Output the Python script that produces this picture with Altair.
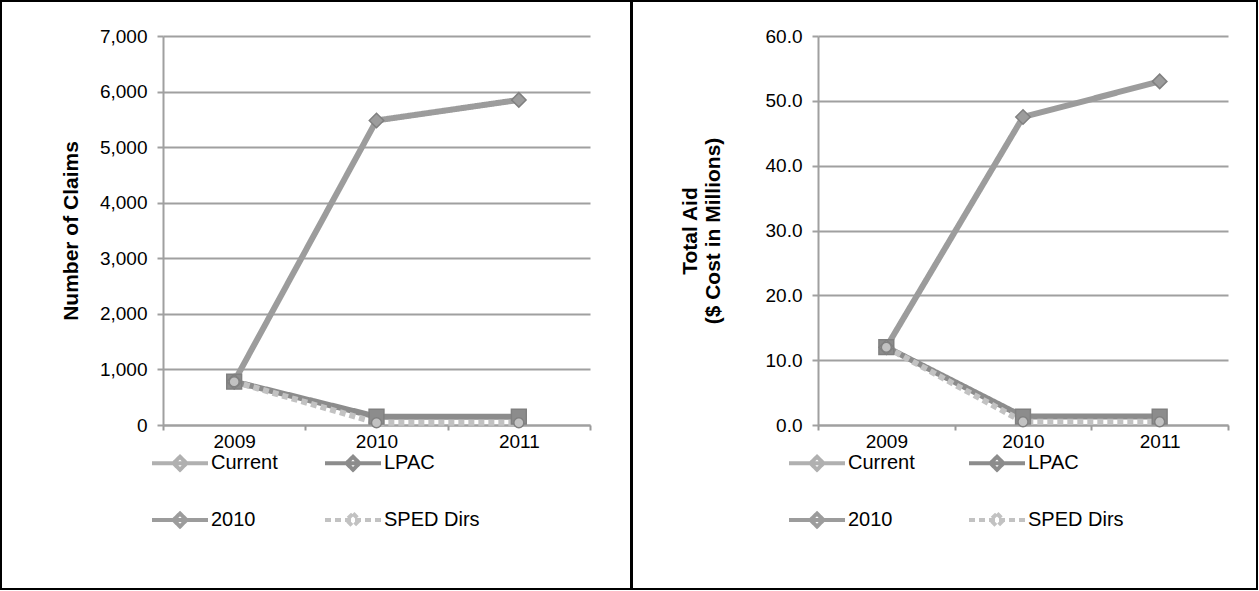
import altair as alt
import pandas as pd

years = ["2009", "2010", "2011"]
series = ["Current", "LPAC", "2010", "SPED Dirs"]

claims_current = [780, None, None]
claims_lpac = [780, 150, 150]
claims_2010 = [780, 5480, 5850]
claims_sped = [780, 40, 40]

aid_current = [12.0, None, None]
aid_lpac = [12.0, 1.3, 1.3]
aid_2010 = [12.0, 47.5, 53.0]
aid_sped = [12.0, 0.5, 0.5]

claims_ticks = [0, 1000, 2000, 3000, 4000, 5000, 6000, 7000]
aid_ticks = [0, 10, 20, 30, 40, 50, 60]

colors = ["#b0b0b0", "#8c8c8c", "#9c9c9c", "#c2c2c2"]
shapes = ["diamond", "square", "diamond", "circle"]
dashes = [[1, 0], [1, 0], [1, 0], [6, 4]]
sizes = [190, 220, 210, 100]

FONT = "Liberation Sans"
LEG_PATH = "M-5.6,0H5.6M0,-1.3L1.3,0L0,1.3L-1.3,0Z"


def long_df(cols):
    rows = []
    for s, vals in zip(series, cols):
        for y, v in zip(years, vals):
            if v is not None:
                rows.append({"year": y, "series": s, "value": v})
    return pd.DataFrame(rows)


def panel(df, width, ytitle, ymax, ticks, fmt, title_pad, frame_x, legend_x, col_pad):
    xenc = alt.X(
        "year:N", sort=years, bandPosition=0.5,
        scale=alt.Scale(type="band", domain=years, paddingInner=0, paddingOuter=0),
        axis=alt.Axis(title=None, tickBand="extent", labelFont=FONT, labelFontSize=19,
                      labelColor="#000", labelPadding=2, tickSize=5, tickColor="#999",
                      tickWidth=2, domainColor="#a0a0a0", domainWidth=2, grid=False,
                      labelAngle=0),
    )
    yenc = alt.Y(
        "value:Q",
        scale=alt.Scale(domain=[0, ymax], nice=False, zero=True),
        axis=alt.Axis(title=ytitle, values=ticks, format=fmt, labelFont=FONT,
                      labelFontSize=19, labelColor="#000", labelPadding=10,
                      tickSize=6, tickColor="#a0a0a0", tickWidth=2,
                      domainColor="#a0a0a0", domainWidth=2, gridColor="#a0a0a0",
                      gridWidth=2, titleFont=FONT, titleFontSize=21,
                      titleFontWeight="bold", titleColor="#000",
                      titlePadding=title_pad),
    )
    legend = alt.Legend(
        title=None, orient="none", legendX=legend_x, legendY=417, columns=2,
        direction="horizontal",
        symbolType=LEG_PATH, symbolSize=100, symbolStrokeWidth=4,
        labelFont=FONT, labelFontSize=20, labelColor="#000", labelOffset=21,
        rowPadding=27, columnPadding=col_pad,
    )
    cscale = alt.Scale(domain=series, range=colors)
    base = alt.Chart(df)
    lines = base.mark_line(strokeWidth=6).encode(
        x=xenc, y=yenc,
        color=alt.Color("series:N", scale=cscale, legend=legend),
        strokeDash=alt.StrokeDash("series:N", scale=alt.Scale(domain=series, range=dashes),
                                  legend=legend),
        order=alt.Order("year:N"),
    )
    layers = [lines]
    for s, c, sh, sz in zip(series, colors, shapes, sizes):
        pts = base.transform_filter(alt.datum.series == s).mark_point(
            filled=True, opacity=1, strokeWidth=1.5, stroke="#808080",
            color=c, shape=sh, size=sz,
        ).encode(x=xenc, y=yenc)
        layers.append(pts)
    frame = alt.Chart(pd.DataFrame({"f": [0]})).mark_rect(
        fillOpacity=0, stroke="#000", strokeWidth=2
    ).encode(
        x=alt.value(frame_x[0]), x2=alt.value(frame_x[1]),
        y=alt.value(-35), y2=alt.value(553),
    )
    return alt.layer(frame, *layers).properties(width=width, height=389)


left = panel(long_df([claims_current, claims_lpac, claims_2010, claims_sped]),
             427, "Number of Claims", 7000, claims_ticks, ",.0f", 18,
             (-162, 468), 7, 39)
right = panel(long_df([aid_current, aid_lpac, aid_2010, aid_sped]),
              410, ["Total Aid", "($ Cost in Millions)"], 60, aid_ticks, ".1f", 42,
              (-186, 439), -11, 46)

chart = alt.hconcat(left, right, spacing=228, bounds="flush").resolve_scale(
    color="independent", strokeDash="independent", x="independent", y="independent"
).resolve_legend(
    color="independent", strokeDash="independent"
).properties(
    padding=0, background="white"
).configure_view(stroke=None)

chart.save("out.html", embed_options={"renderer": "svg", "actions": False})
